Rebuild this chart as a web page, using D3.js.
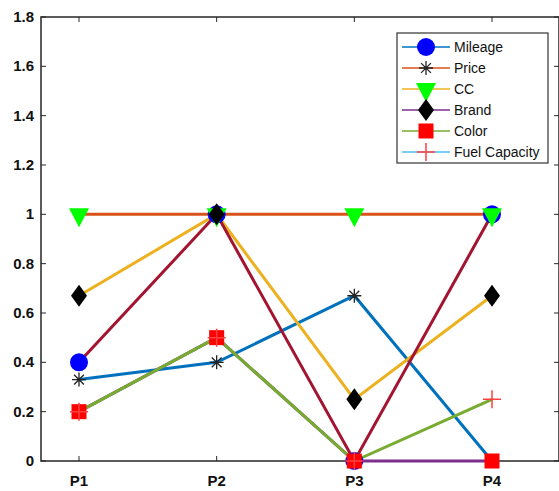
<!DOCTYPE html>
<meta charset="utf-8">
<script src="https://d3js.org/d3.v7.min.js"></script>
<style>
  body { margin: 0; background: #fff; }
  svg text { font-family: "Liberation Sans", Arial, sans-serif; }
</style>
<div id="chart"></div>
<script>
    var width = 559
    var height = 491

    // data
    var categories = ["P1", "P2", "P3", "P4"]
    var yTicks = [0, 0.2, 0.4, 0.6, 0.8, 1, 1.2, 1.4, 1.6, 1.8]
    var legendNames = ["Mileage", "Price", "CC", "Brand", "Color", "Fuel Capacity"]
    var mileage = [0.4, 1, 0, 1]
    var price = [0.33, 0.4, 0.67, 0]
    var cc = [1, 1, 1, 1]
    var brand = [0.67, 1, 0.25, 0.67]
    var color = [0.2, 0.5, 0, 0]
    var fuel = [0.2, 0.5, 0, 0.25]

    // line colours in the plot follow matlab's colour order, shifted from the markers
    var plotLines = [
        { values: price, stroke: "#0072BD" },
        { values: cc, stroke: "#D95319" },
        { values: brand, stroke: "#EDB120" },
        { values: color, stroke: "#7E2F8E" },
        { values: fuel, stroke: "#77AC30" },
        { values: mileage, stroke: "#A2142F" }
    ]
    var legendLineColors = ["#0072BD", "#D95319", "#EDB120", "#7E2F8E", "#77AC30", "#4DBEEE"]
    var markerSeries = [mileage, price, cc, brand, color, fuel]
    var markerTypes = ["circle", "star", "tri", "diamond", "square", "plus"]

    var svg = d3.select("#chart").append("svg")
        .attr("width", width)
        .attr("height", height)

    var x = d3.scaleLinear().domain([1, 4]).range([79, 492])
    var y = d3.scaleLinear().domain([0, 1.8]).range([461, 17])
    var axLeft = 41, axRight = 559, axTop = 17, axBottom = 461

    var axisColor = "#262626"

    // box
    svg.append("rect")
        .attr("x", axLeft).attr("y", axTop)
        .attr("width", axRight - axLeft).attr("height", axBottom - axTop)
        .attr("fill", "none").attr("stroke", axisColor).attr("stroke-width", 1.5)

    // ticks
    yTicks.forEach(function (t) {
        svg.append("line").attr("x1", axLeft).attr("x2", axLeft + 5)
            .attr("y1", y(t)).attr("y2", y(t)).attr("stroke", axisColor)
        svg.append("line").attr("x1", axRight - 5).attr("x2", axRight)
            .attr("y1", y(t)).attr("y2", y(t)).attr("stroke", axisColor)
        svg.append("text").attr("x", 34).attr("y", y(t) + 5)
            .attr("text-anchor", "end").attr("font-size", 15).attr("font-weight", "bold")
            .attr("fill", "#111").text(d3.format("~g")(t))
    })
    categories.forEach(function (c, i) {
        svg.append("line").attr("x1", x(i + 1)).attr("x2", x(i + 1))
            .attr("y1", axBottom).attr("y2", axBottom - 5).attr("stroke", axisColor)
        svg.append("line").attr("x1", x(i + 1)).attr("x2", x(i + 1))
            .attr("y1", axTop).attr("y2", axTop + 5).attr("stroke", axisColor)
        svg.append("text").attr("x", x(i + 1)).attr("y", 486)
            .attr("text-anchor", "middle").attr("font-size", 15).attr("font-weight", "bold")
            .attr("fill", "#111").text(c)
    })

    var line = d3.line()
        .x(function (d, i) { return x(i + 1) })
        .y(function (d) { return y(d) })

    svg.append("g").selectAll("path")
        .data(plotLines)
        .enter().append("path")
        .attr("d", function (d) { return line(d.values) })
        .attr("fill", "none")
        .attr("stroke", function (d) { return d.stroke })
        .attr("stroke-width", 3)

    function drawMarker(g, type, cx, cy) {
        if (type == "circle") {
            g.append("circle").attr("cx", cx).attr("cy", cy).attr("r", 9).attr("fill", "#0000FF")
        } else if (type == "star") {
            var s = 7
            var d = ""
            d += "M" + (cx - s) + "," + cy + "L" + (cx + s) + "," + cy
            d += "M" + cx + "," + (cy - s) + "L" + cx + "," + (cy + s)
            d += "M" + (cx - s * 0.7) + "," + (cy - s * 0.7) + "L" + (cx + s * 0.7) + "," + (cy + s * 0.7)
            d += "M" + (cx - s * 0.7) + "," + (cy + s * 0.7) + "L" + (cx + s * 0.7) + "," + (cy - s * 0.7)
            g.append("path").attr("d", d).attr("stroke", "#222").attr("stroke-width", 1.3)
        } else if (type == "tri") {
            g.append("path")
                .attr("d", "M" + (cx - 10) + "," + (cy - 6) + "L" + (cx + 10) + "," + (cy - 6) + "L" + cx + "," + (cy + 13) + "Z")
                .attr("fill", "#00FF00")
        } else if (type == "diamond") {
            g.append("path")
                .attr("d", "M" + cx + "," + (cy - 11) + "L" + (cx + 8) + "," + cy + "L" + cx + "," + (cy + 11) + "L" + (cx - 8) + "," + cy + "Z")
                .attr("fill", "#000")
        } else if (type == "square") {
            g.append("rect").attr("x", cx - 7.5).attr("y", cy - 7.5)
                .attr("width", 15).attr("height", 15).attr("fill", "#FF0000")
        } else if (type == "plus") {
            g.append("path")
                .attr("d", "M" + (cx - 9) + "," + cy + "L" + (cx + 9) + "," + cy + "M" + cx + "," + (cy - 9) + "L" + cx + "," + (cy + 9))
                .attr("stroke", "#FF4040").attr("stroke-width", 1.5)
        }
    }

    var markers = svg.append("g")
    markerSeries.forEach(function (vals, k) {
        vals.forEach(function (v, i) {
            drawMarker(markers, markerTypes[k], x(i + 1), y(v))
        })
    })

    // legend
    var lg = svg.append("g")
    lg.append("rect").attr("x", 397).attr("y", 33).attr("width", 151).attr("height", 130)
        .attr("fill", "#fff").attr("stroke", "#333").attr("stroke-width", 1.2)
    legendNames.forEach(function (name, k) {
        var ly = 47 + k * 21
        lg.append("line").attr("x1", 402).attr("x2", 450).attr("y1", ly).attr("y2", ly)
            .attr("stroke", legendLineColors[k]).attr("stroke-width", 2).attr("opacity", 0.75)
        drawMarker(lg, markerTypes[k], 426, ly)
        lg.append("text").attr("x", 454).attr("y", ly + 5)
            .attr("font-size", 14).attr("fill", "#111").text(name)
    })
</script>
